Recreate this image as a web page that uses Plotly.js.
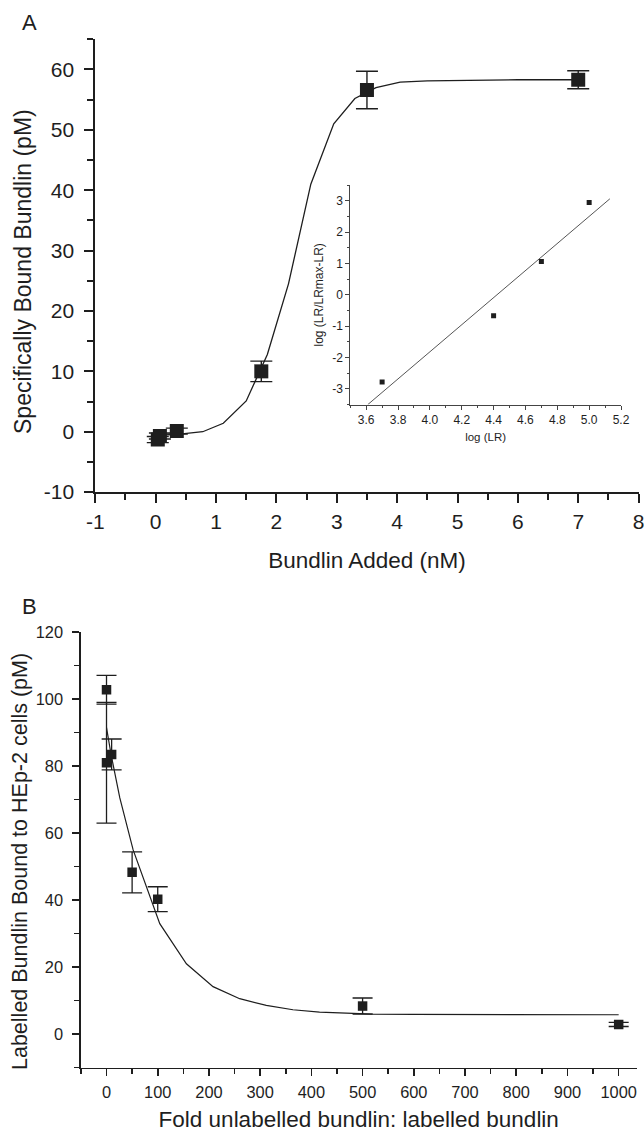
<!DOCTYPE html>
<html><head><meta charset="utf-8">
<script src="https://cdn.plot.ly/plotly-3.0.1.min.js"></script>
<style>html,body{margin:0;padding:0;background:#fff}#chart{width:644px;height:1132px}</style>
</head><body><div id="chart"></div>
<script>
// Panel A: specific binding
const addedA = [0.035, 0.07, 0.35, 1.75, 3.5, 7.0];
const boundA = [-1.3, -0.7, 0.1, 10.0, 56.6, 58.3];
const errA = [0.5, 0.5, 0.5, 1.7, 3.1, 1.5];
const fitAx = [0.05, 0.4, 0.78, 1.12, 1.5, 1.85, 2.2, 2.57, 2.95, 3.3, 3.65, 4.05, 4.5, 5.0, 5.5, 6.0, 6.5, 7.0];
const fitAy = [-0.6, -0.4, 0.0, 1.4, 5.1, 12.8, 24.5, 41.0, 51.0, 55.2, 57.0, 57.9, 58.1, 58.2, 58.25, 58.3, 58.3, 58.3];
const ticksAx = [-1, 0, 1, 2, 3, 4, 5, 6, 7, 8];
const labelsAx = ['-1', '0', '1', '2', '3', '4', '5', '6', '7', '8'];
const ticksAy = [-10, 0, 10, 20, 30, 40, 50, 60];
const labelsAy = ['-10', '0', '10', '20', '30', '40', '50', '60'];
// Inset: Hill plot
const logLR = [3.7, 4.4, 4.7, 5.0];
const logRatio = [-2.78, -0.67, 1.06, 2.94];
const hillLineX = [3.61, 5.13];
const hillLineY = [-3.5, 3.06];
const ticksIx = [3.6, 3.8, 4.0, 4.2, 4.4, 4.6, 4.8, 5.0, 5.2];
const labelsIx = ['3.6', '3.8', '4.0', '4.2', '4.4', '4.6', '4.8', '5.0', '5.2'];
const ticksIy = [-3, -2, -1, 0, 1, 2, 3];
const labelsIy = ['-3', '-2', '-1', '0', '1', '2', '3'];
// Panel B: competition
const foldB = [0, 0, 10, 50, 100, 500, 1000];
const boundB = [102.8, 81.0, 83.5, 48.3, 40.3, 8.4, 2.9];
const errB = [4.3, 18.0, 4.6, 6.1, 3.7, 2.4, 0.6];
const fitBx = [0, 9, 26, 52, 104, 156, 208, 260, 312, 364, 416, 468, 520, 600, 700, 800, 900, 1000];
const fitBy = [91.5, 83.4, 70.5, 55.0, 33.0, 21.0, 14.2, 10.6, 8.6, 7.3, 6.6, 6.2, 6.0, 5.9, 5.85, 5.8, 5.8, 5.8];

const ink = '#1e1e1e';
const F = 'Liberation Sans, Arial, Helvetica, sans-serif';

const traces = [
  {x: fitAx, y: fitAy, mode: 'lines', line: {color: ink, width: 1.3}, xaxis: 'x', yaxis: 'y', hoverinfo: 'skip'},
  {x: addedA, y: boundA, mode: 'markers', marker: {symbol: 'square', size: 14, color: ink},
   error_y: {type: 'data', array: errA, visible: true, color: ink, thickness: 1.4, width: 11}, xaxis: 'x', yaxis: 'y'},
  {x: hillLineX, y: hillLineY, mode: 'lines', line: {color: '#555', width: 1}, xaxis: 'x2', yaxis: 'y2'},
  {x: logLR, y: logRatio, mode: 'markers', marker: {symbol: 'square', size: 5, color: ink}, xaxis: 'x2', yaxis: 'y2'},
  {x: fitBx, y: fitBy, mode: 'lines', line: {color: ink, width: 1.2}, xaxis: 'x3', yaxis: 'y3'},
  {x: foldB, y: boundB, mode: 'markers', marker: {symbol: 'square', size: 9.5, color: ink},
   error_y: {type: 'data', array: errB, visible: true, color: ink, thickness: 1.3, width: 10}, xaxis: 'x3', yaxis: 'y3'}
];

function ax(opts) {
  return Object.assign({
    showgrid: false, zeroline: false, showline: true, linecolor: ink, linewidth: 2,
    ticks: 'outside', tickcolor: ink, tickwidth: 2, ticklen: 9,
    mirror: false, fixedrange: true, automargin: false, ticklabeloverflow: 'allow'
  }, opts);
}

const layout = {
  width: 644, height: 1132, margin: {l: 0, r: 0, t: 0, b: 0},
  paper_bgcolor: '#fff', plot_bgcolor: 'rgba(0,0,0,0)', showlegend: false,
  font: {family: F, color: ink},
  xaxis: ax({domain: [0.1480, 0.9916], range: [-1, 8], tickmode: 'array', tickvals: ticksAx, ticktext: labelsAx, anchor: 'y',
    tickfont: {size: 21, family: F, color: ink}, ticklabelstandoff: 1,
    minor: {dtick: 0.5, tick0: 0, ticklen: 6, tickwidth: 2, tickcolor: ink, ticks: 'outside'},
    title: {text: 'Bundlin Added (nM)', font: {size: 22.5, family: F, color: ink}, standoff: 20}}),
  yaxis: ax({domain: [0.56528, 0.96528], range: [-10, 65], tickmode: 'array', tickvals: ticksAy, ticktext: labelsAy, anchor: 'x',
    tickfont: {size: 21, family: F, color: ink}, ticklabelstandoff: 6,
    minor: {dtick: 5, tick0: 0, ticklen: 6, tickwidth: 2, tickcolor: ink, ticks: 'outside'}}),
  xaxis2: ax({domain: [0.5439, 0.9643], range: [3.5, 5.2], tickmode: 'array', tickvals: ticksIx, ticktext: labelsIx, anchor: 'y2',
    linecolor: '#444', linewidth: 1, tickcolor: '#444', tickwidth: 1, ticklen: 4,
    tickfont: {size: 12, family: F, color: ink},
    minor: {dtick: 0.1, tick0: 3.5, ticklen: 2.5, tickwidth: 1, tickcolor: '#444', ticks: 'outside'},
    title: {text: 'log (LR)', font: {size: 11.5, family: F, color: ink}, standoff: 6}}),
  yaxis2: ax({domain: [0.64258, 0.83657], range: [-3.5, 3.5], tickmode: 'array', tickvals: ticksIy, ticktext: labelsIy, anchor: 'x2',
    linecolor: '#444', linewidth: 1, tickcolor: '#444', tickwidth: 1, ticklen: 4,
    tickfont: {size: 12, family: F, color: ink},
    minor: {dtick: 0.5, tick0: 0, ticklen: 2.5, tickwidth: 1, tickcolor: '#444', ticks: 'outside'},
    title: {text: 'log (LR/LRmax-LR)', font: {size: 12, family: F, color: ink}, standoff: 5}}),
  xaxis3: ax({domain: [0.12562, 0.98851], range: [-50, 1035], dtick: 100, tick0: 0, anchor: 'y3',
    linewidth: 1.6, tickwidth: 1.6, ticklen: 7,
    tickfont: {size: 16.4, family: F, color: ink}, ticklabelstandoff: 2,
    minor: {dtick: 50, tick0: 0, ticklen: 5, tickwidth: 1.6, tickcolor: ink, ticks: 'outside'},
    title: {text: 'Fold unlabelled bundlin: labelled bundlin', font: {size: 22.5, family: F, color: ink}, standoff: 15}}),
  yaxis3: ax({domain: [0.0568, 0.44161], range: [-10, 120], dtick: 20, tick0: 0, anchor: 'x3',
    linewidth: 1.6, tickwidth: 1.6, ticklen: 7,
    tickfont: {size: 16.4, family: F, color: ink}, ticklabelstandoff: 6,
    minor: {dtick: 10, tick0: 0, ticklen: 5, tickwidth: 1.6, tickcolor: ink, ticks: 'outside'}}),
  annotations: [
    {text: 'A', xref: 'paper', yref: 'paper', x: 29 / 644, y: 1 - 22 / 1132, showarrow: false,
     xanchor: 'center', yanchor: 'middle', font: {size: 22, family: F, color: ink}},
    {text: 'B', xref: 'paper', yref: 'paper', x: 29 / 644, y: 1 - 606 / 1132, showarrow: false,
     xanchor: 'center', yanchor: 'middle', font: {size: 22, family: F, color: ink}},
    {text: 'Specifically Bound Bundlin (pM)', xref: 'paper', yref: 'paper', x: 23 / 644, y: 1 - 272 / 1132,
     textangle: -90, showarrow: false, xanchor: 'center', yanchor: 'middle', font: {size: 23, family: F, color: ink}},
    {text: 'Labelled Bundlin Bound to HEp-2 cells (pM)', xref: 'paper', yref: 'paper', x: 20 / 644, y: 1 - 862 / 1132,
     textangle: -90, showarrow: false, xanchor: 'center', yanchor: 'middle', font: {size: 21.5, family: F, color: ink}}
  ]
};

Plotly.newPlot('chart', traces, layout, {staticPlot: true, displayModeBar: false});
</script></body></html>
